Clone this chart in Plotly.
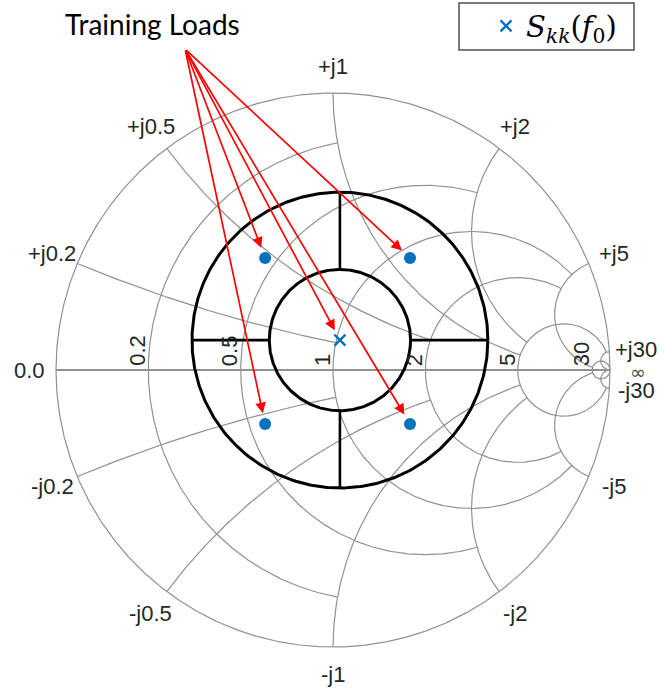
import numpy as np
import plotly.graph_objects as go

# Smith chart grid: circle values and the value at which each circle / arc stops
GRID_VALUES = [30, 5, 2, 1, 0.5, 0.2]
GRID_LIMITS = [np.inf, 30, 5, 5, 2, 1]

# Reflection coefficients of the training loads (real / imaginary parts)
TRAIN_RE = [-0.245, 0.278, -0.245, 0.278]
TRAIN_IM = [0.404, 0.404, -0.195, -0.195]

# Reflection coefficient S_kk at f0
SKK_RE = [0.025]
SKK_IM = [0.108]

# Radii of the two rings drawn around S_kk (in reflection-coefficient units)
RING_RADII = [0.255, 0.534]

# Where the "Training Loads" arrows start
ARROW_SRC = (-0.534, 1.159)

# Plot geometry: pixels per unit of reflection coefficient and chart centre
W, H = 664, 694
PX = 277.0
CX, CY = 333.0, 370.0

GRID_COLOR = "rgb(145,145,145)"
LABEL_COLOR = "#262626"
BLUE = "#0072BD"


def gamma(z):
    return (z - 1) / (z + 1)


def resistance_arc(r, xlim, n=900):
    tmax = np.arctan(xlim) if np.isfinite(xlim) else np.pi / 2 - 1e-9
    t = np.linspace(-tmax, tmax, n)
    return gamma(r + 1j * np.tan(t))


def reactance_arc(x, rlim, n=600):
    tmax = np.arctan(rlim) if np.isfinite(rlim) else np.pi / 2 - 1e-9
    t = np.linspace(0, tmax, n)
    return gamma(np.tan(t) + 1j * x)


# ---- build the grid as one polyline with gaps ----
gx, gy = [], []


def add(seg):
    gx.extend(seg.real.tolist() + [None])
    gy.extend(seg.imag.tolist() + [None])


add(resistance_arc(0.0, np.inf))  # outer boundary
for v, lim in zip(GRID_VALUES, GRID_LIMITS):
    add(resistance_arc(v, lim))
    add(reactance_arc(v, lim))
    add(reactance_arc(-v, lim))

fig = go.Figure()

fig.add_trace(go.Scatter(x=gx, y=gy, mode="lines",
                         line=dict(color=GRID_COLOR, width=1.2),
                         hoverinfo="skip", showlegend=False))
# real axis
fig.add_trace(go.Scatter(x=[-1, 1], y=[0, 0], mode="lines",
                         line=dict(color=GRID_COLOR, width=1.8),
                         hoverinfo="skip", showlegend=False))

# ---- rings and cross bars around S_kk ----
c = complex(SKK_RE[0], SKK_IM[0])
phi = np.linspace(0, 2 * np.pi, 400)
for rad in RING_RADII:
    ring = c + rad * np.exp(1j * phi)
    fig.add_trace(go.Scatter(x=ring.real, y=ring.imag, mode="lines",
                             line=dict(color="black", width=3),
                             hoverinfo="skip", showlegend=False))
bx, by = [], []
for ang in [0, np.pi / 2, np.pi, 3 * np.pi / 2]:
    p0 = c + RING_RADII[0] * np.exp(1j * ang)
    p1 = c + RING_RADII[1] * np.exp(1j * ang)
    bx += [p0.real, p1.real, None]
    by += [p0.imag, p1.imag, None]
fig.add_trace(go.Scatter(x=bx, y=by, mode="lines",
                         line=dict(color="black", width=2.6),
                         hoverinfo="skip", showlegend=False))

# ---- data points ----
fig.add_trace(go.Scatter(x=TRAIN_RE, y=TRAIN_IM, mode="markers",
                         marker=dict(color=BLUE, size=12),
                         name="Training loads", showlegend=False))
fig.add_trace(go.Scatter(x=SKK_RE, y=SKK_IM, mode="markers",
                         marker=dict(symbol="x-thin", size=11,
                                     line=dict(color=BLUE, width=2.4)),
                         name="<i>S</i><sub><i>kk</i></sub>(<i>f</i><sub>0</sub>)",
                         showlegend=True))

annotations = []
label_font = dict(family="Liberation Sans", size=22, color=LABEL_COLOR)

# reactance labels around the rim
rho = 1 + 27 / PX
for v in sorted(GRID_VALUES):
    for sgn in (1, -1):
        g = gamma(1j * sgn * v)
        ang = np.angle(g)
        annotations.append(dict(
            x=rho * np.cos(ang), y=rho * np.sin(ang), xref="x", yref="y",
            text=("+j" if sgn > 0 else "-j") + f"{v:g}", showarrow=False,
            font=label_font, xanchor="center", yanchor="middle"))
annotations.append(dict(x=-rho, y=0, xref="x", yref="y", text="0.0",
                        showarrow=False, xanchor="center", yanchor="middle",
                        font=label_font))
annotations.append(dict(x=rho, y=0, xref="x", yref="y", text="\u221e",
                        showarrow=False, xanchor="center", yanchor="middle",
                        xshift=1, yshift=-2, borderpad=0,
                        font=dict(family="DejaVu Sans", size=19, color="#4a4a4a")))

# resistance labels along the real axis
for v in GRID_VALUES:
    g = gamma(v)
    annotations.append(dict(
        x=g.real, y=0, xref="x", yref="y", text=f"{v:g}", showarrow=False,
        textangle=-90, xanchor="center", yanchor="bottom", xshift=-11, yshift=2,
        font=label_font))

# arrows pointing to the training loads and to S_kk
for px_, py_ in zip(TRAIN_RE + SKK_RE, TRAIN_IM + SKK_IM):
    annotations.append(dict(
        x=px_, y=py_, xref="x", yref="y", ax=ARROW_SRC[0], ay=ARROW_SRC[1],
        axref="x", ayref="y", text="", showarrow=True, arrowhead=2,
        arrowsize=1.25, arrowwidth=1.7, arrowcolor="red", standoff=11))

annotations.append(dict(
    x=152 / W, y=1 - 24 / H, xref="paper", yref="paper", text="Training Loads",
    showarrow=False, xanchor="center", yanchor="middle",
    font=dict(family="Lato", size=28, color="black")))

fig.update_layout(
    width=W, height=H,
    margin=dict(l=0, r=0, t=0, b=0),
    paper_bgcolor="white", plot_bgcolor="white",
    xaxis=dict(range=[-CX / PX, (W - CX) / PX], visible=False, fixedrange=True),
    yaxis=dict(range=[(CY - H) / PX, CY / PX], visible=False, fixedrange=True),
    annotations=annotations,
    showlegend=True,
    legend=dict(x=486 / W, y=1 - 26 / H, xanchor="left", yanchor="middle",
                bgcolor="rgba(0,0,0,0)", borderwidth=0,
                font=dict(family="DejaVu Serif", size=29, color="black")),
    shapes=[dict(type="rect", xref="paper", yref="paper",
                 x0=459 / W, x1=634 / W, y0=1 - 50 / H, y1=1 - 3 / H,
                 line=dict(color="#505050", width=1.5))],
)

fig.write_html("out.html")
